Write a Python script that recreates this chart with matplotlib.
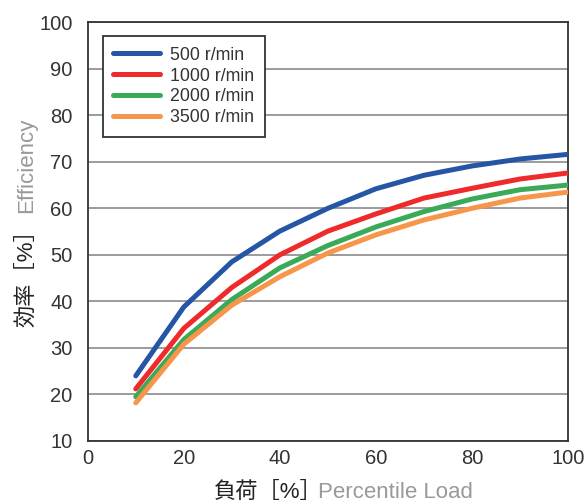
import matplotlib
matplotlib.use('Agg')
import matplotlib.pyplot as plt

plt.rcParams['font.family'] = ['Liberation Sans', 'Noto Sans CJK JP', 'DejaVu Sans']

# data
load = [10, 20, 30, 40, 50, 60, 70, 80, 90, 100]
eff_500 = [24.0, 38.8, 48.5, 55.1, 60.0, 64.2, 67.1, 69.1, 70.6, 71.6]
eff_1000 = [21.2, 34.2, 43.0, 50.0, 55.1, 58.8, 62.2, 64.3, 66.3, 67.6]
eff_2000 = [19.5, 31.8, 40.4, 47.2, 52.0, 56.0, 59.3, 62.0, 64.0, 65.0]
eff_3500 = [18.2, 30.8, 39.2, 45.3, 50.4, 54.3, 57.5, 60.0, 62.2, 63.5]
labels = ['500 r/min', '1000 r/min', '2000 r/min', '3500 r/min']
colors = ['#2556A5', '#EE2A2A', '#3AAA58', '#F7964B']

fig = plt.figure(figsize=(5.85, 5.04), dpi=100)
ax = fig.add_axes([0.150, 0.125, 0.821, 0.831])

for ys, lab, c in zip([eff_500, eff_1000, eff_2000, eff_3500], labels, colors):
    ax.plot(load, ys, color=c, lw=3.6, label=lab, solid_capstyle='round', zorder=3)

ax.set_xlim(0, 100)
ax.set_ylim(10, 100)
ax.set_xticks(range(0, 101, 20))
ax.set_yticks(range(10, 101, 10))
ax.grid(axis='y', color='#8a8a8a', lw=1.2)
ax.tick_params(length=0, labelsize=14.5, colors='#333333')
ax.tick_params(axis='x', pad=6)
ax.tick_params(axis='y', pad=11)
for s in ax.spines.values():
    s.set_color('#333333')
    s.set_linewidth(1.3)

leg = ax.legend(loc='upper left', bbox_to_anchor=(0.031, 0.967), borderaxespad=0,
                fontsize=12.8, fancybox=False, framealpha=1, edgecolor='#333333',
                handlelength=2.6, labelspacing=0.22, borderpad=0.6,
                handletextpad=0.6)
leg.get_frame().set_linewidth(1.3)
for t in leg.get_texts():
    t.set_color('#333333')

# axis labels: Japanese in dark, English in gray
ax.text(-0.127, 0.272, '効率［%］', rotation=90, ha='center', va='bottom',
        transform=ax.transAxes, fontsize=16, color='#222222')
ax.text(-0.127, 0.544, 'Efficiency', rotation=90, ha='center', va='bottom',
        transform=ax.transAxes, fontsize=16, color='#999999')
ax.text(0.263, -0.122, '負荷［%］', ha='left', va='center',
        transform=ax.transAxes, fontsize=16, color='#222222')
ax.text(0.48, -0.122, 'Percentile Load', ha='left', va='center',
        transform=ax.transAxes, fontsize=16, color='#999999')

plt.savefig('out.png', dpi=100)
